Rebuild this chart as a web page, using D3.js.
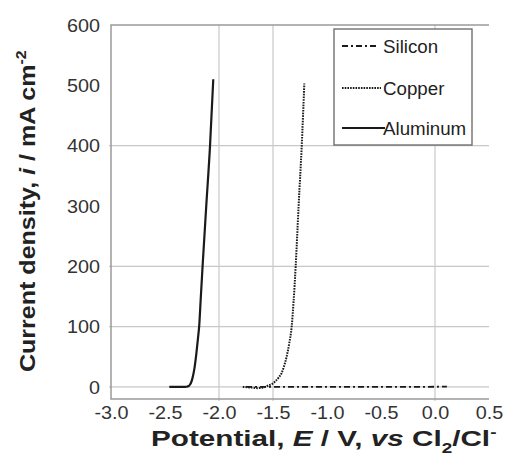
<!DOCTYPE html>
<html>
<head>
<meta charset="utf-8">
<script src="https://cdn.jsdelivr.net/npm/d3@7"></script>
<style>
  body { margin: 0; background: #fff; }
  text { font-family: "Liberation Sans", Arial, sans-serif; fill: #222; }
</style>
</head>
<body>
<div id="chart"></div>
<script>
// data: [potential E (V), current density i (mA cm-2)]
var silicon = [[-1.75, 0], [-1.5, 0], [-1.0, 0], [-0.5, 0], [0.0, 0.3], [0.11, 0.5]];
var copper = [[-1.78, 0], [-1.70, -1], [-1.64, -2], [-1.58, -0.5], [-1.55, 2], [-1.50, 6],
  [-1.48, 9], [-1.45, 15], [-1.42, 23], [-1.40, 33], [-1.374, 50], [-1.35, 72], [-1.327, 100],
  [-1.31, 140], [-1.29, 200], [-1.263, 300], [-1.234, 400], [-1.21, 503]];
var aluminum = [[-2.46, 0], [-2.40, 0], [-2.33, 0], [-2.30, 0.3], [-2.28, 1.5], [-2.268, 4],
  [-2.259, 7], [-2.245, 15], [-2.229, 29], [-2.21, 55], [-2.195, 80], [-2.183, 102],
  [-2.168, 150], [-2.152, 200], [-2.118, 300], [-2.083, 400], [-2.053, 510]];

var xTicks = [-3.0, -2.5, -2.0, -1.5, -1.0, -0.5, 0.0, 0.5];
var yTicks = [0, 100, 200, 300, 400, 500, 600];
var xGrid = [-2.0, -1.5, 0.0];
var yGrid = [0, 100, 200, 400];
var seriesNames = ["Silicon", "Copper", "Aluminum"];

// svg container
var svgWidth = 505;
var svgHeight = 465;
var margin = { top: 25, right: 16, bottom: 66, left: 111 };
var chartWidth = svgWidth - margin.left - margin.right;
var chartHeight = svgHeight - margin.top - margin.bottom;

var svg = d3.select("#chart").append("svg")
  .attr("width", svgWidth)
  .attr("height", svgHeight);

var chartGroup = svg.append("g")
  .attr("transform", `translate(${margin.left}, ${margin.top})`);

// scales
var xScale = d3.scaleLinear().domain([-3.0, 0.5]).range([0, chartWidth]);
var yScale = d3.scaleLinear().domain([-20, 600]).range([chartHeight, 0]);

// gridlines (only some levels have one in the original)
chartGroup.selectAll("line.hgrid").data(yGrid).enter().append("line")
  .attr("class", "hgrid")
  .attr("x1", -2).attr("x2", chartWidth)
  .attr("y1", d => yScale(d)).attr("y2", d => yScale(d))
  .attr("stroke", "#c8c8c8").attr("stroke-width", 1.2);

chartGroup.selectAll("line.vgrid").data(xGrid).enter().append("line")
  .attr("class", "vgrid")
  .attr("x1", d => xScale(d)).attr("x2", d => xScale(d))
  .attr("y1", 0).attr("y2", chartHeight + 2)
  .attr("stroke", "#c8c8c8").attr("stroke-width", 1.2);

// frame: top, left, bottom
chartGroup.append("path")
  .attr("d", `M${chartWidth},0 H0 V${chartHeight} H${chartWidth}`)
  .attr("fill", "none")
  .attr("stroke", "#9a9a9a")
  .attr("stroke-width", 1.5);

// axes (labels only)
var xAxis = d3.axisBottom(xScale).tickValues(xTicks).tickSize(0).tickFormat(d => d.toFixed(1));
var yAxis = d3.axisLeft(yScale).tickValues(yTicks).tickSize(0).tickFormat(d => d);

var gx = chartGroup.append("g")
  .attr("transform", `translate(0, ${chartHeight})`)
  .call(xAxis);
gx.select(".domain").remove();
gx.selectAll(".tick line").remove();
gx.selectAll("text")
  .attr("y", 0).attr("dy", null)
  .attr("transform", "translate(0, 20) scale(1.07, 1)")
  .style("font-size", "18.5px").style("fill", "#333");

var gy = chartGroup.append("g").call(yAxis);
gy.select(".domain").remove();
gy.selectAll(".tick line").remove();
gy.selectAll("text")
  .attr("x", -10.3).attr("dy", "0.34em")
  .attr("transform", "scale(1.07, 1)")
  .style("font-size", "18.5px").style("fill", "#333");

// curves
var line = d3.line()
  .x(d => xScale(d[0]))
  .y(d => yScale(d[1]))
  .curve(d3.curveMonotoneX);

var styles = {
  Silicon: { dash: "6,3,2,3", width: 1.8 },
  Copper: { dash: "1.6,1.1", width: 2 },
  Aluminum: { dash: null, width: 2.2 }
};

[silicon, copper, aluminum].forEach(function(data, i) {
  var s = styles[seriesNames[i]];
  chartGroup.append("path")
    .datum(data)
    .attr("d", line)
    .attr("fill", "none")
    .attr("stroke", "#1a1a1a")
    .attr("stroke-width", s.width)
    .attr("stroke-dasharray", s.dash);
});

// legend
var legend = svg.append("g");
legend.append("rect")
  .attr("x", 334).attr("y", 29)
  .attr("width", 138).attr("height", 116)
  .attr("fill", "#fff")
  .attr("stroke", "#666")
  .attr("stroke-width", 1.3);

var legendRows = [
  { y: 46, x2: 376 },
  { y: 88, x2: 381 },
  { y: 128, x2: 385 }
];
seriesNames.forEach(function(name, i) {
  var s = styles[name];
  legend.append("line")
    .attr("x1", 342).attr("x2", legendRows[i].x2)
    .attr("y1", legendRows[i].y).attr("y2", legendRows[i].y)
    .attr("stroke", "#1a1a1a")
    .attr("stroke-width", s.width)
    .attr("stroke-dasharray", s.dash);
  legend.append("text")
    .attr("transform", `translate(383, ${legendRows[i].y + 6.5}) scale(1.07, 1)`)
    .style("font-size", "17.5px")
    .text(name);
});

// axis titles, stretched to the width they have in the original
function fitWidth(sel, target, tx, ty, rot) {
  var w = sel.node().getBBox().width;
  var sx = target / w;
  sel.attr("transform", `translate(${tx}, ${ty}) rotate(${rot}) scale(${sx}, 1)`);
}

var xTitle = svg.append("text")
  .attr("x", 0).attr("y", 0)
  .style("font-size", "22px").style("font-weight", "bold");
xTitle.append("tspan").text("Potential, ");
xTitle.append("tspan").style("font-style", "italic").text("E");
xTitle.append("tspan").text(" / V, ");
xTitle.append("tspan").style("font-style", "italic").text("vs");
xTitle.append("tspan").text(" Cl");
xTitle.append("tspan").attr("dy", 7).style("font-size", "14px").text("2");
xTitle.append("tspan").attr("dy", -7).text("/Cl");
xTitle.append("tspan").attr("dy", -9).style("font-size", "14px").text("-");
fitWidth(xTitle, 346, 151, 446, 0);

var yTitle = svg.append("text")
  .attr("x", 0).attr("y", 0)
  .style("font-size", "22px").style("font-weight", "bold");
yTitle.append("tspan").text("Current density, ");
yTitle.append("tspan").style("font-style", "italic").text("i");
yTitle.append("tspan").text(" / mA cm");
yTitle.append("tspan").attr("dy", -9).style("font-size", "14px").text("-2");
fitWidth(yTitle, 322, 35, 372, -90);
</script>
</body>
</html>
